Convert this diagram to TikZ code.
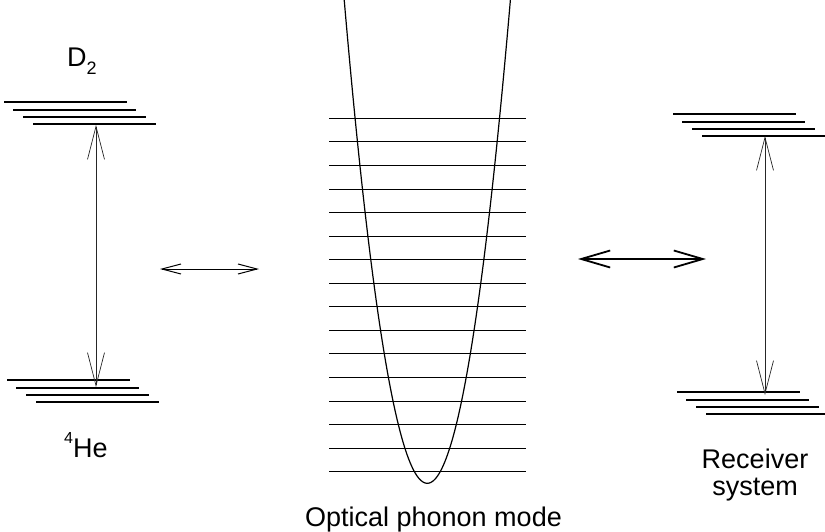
\documentclass[tikz,border=0pt]{standalone}
\usepackage{fontspec}
\setmainfont{Liberation Sans}
\usetikzlibrary{arrows.meta}
\tikzset{
  lvline/.style={line width=2.3pt},
  phline/.style={line width=0.9pt},
  potcurve/.style={line width=1.2pt},
  transarrow/.style={{Straight Barb[length=33pt,width=17pt]}-{Straight Barb[length=33pt,width=17pt]}, line width=0.7pt, draw=black!85},
  thincouple/.style={{Straight Barb[length=19pt,width=10pt]}-{Straight Barb[length=19pt,width=10pt]}, line width=1pt},
  thickcouple/.style={{Straight Barb[length=29pt,width=17pt]}-{Straight Barb[length=29pt,width=17pt]}, line width=1.8pt},
  lbltext/.style={font=\fontsize{27}{27}\selectfont, inner sep=0pt, align=center}
}
\newcommand{\lowidx}[1]{\raisebox{-8pt}{\fontsize{18}{18}\selectfont #1}}
\newcommand{\highidx}[1]{\raisebox{13.5pt}{\fontsize{16}{16}\selectfont #1}}

\begin{document}
\begin{tikzpicture}[x=1pt, y=-1pt]
  \useasboundingbox (0,0) rectangle (825,531);
  % level stacks
  \foreach \sx/\sy in {4/102, 7/380, 673/114, 677/392}
    \foreach \dx/\dy in {0/0, 9/8, 19/15, 29/22}
      \draw[lvline] (\sx+\dx,\sy+\dy) -- ++(123,0);
  % phonon ladder
  \foreach \k in {0,...,15}
    \draw[phline] (329,118.3+23.56*\k) -- (526,118.3+23.56*\k);
  \draw[potcurve, domain=-83.1:83.1, samples=120, smooth] plot (\x+427.3, {483.3-0.07*\x*\x});
  % transitions
  \coordinate (dtop) at (96,125);
  \coordinate (hebot) at (96,387);
  \coordinate (rtop) at (765,136);
  \coordinate (rbot) at (765,395);
  \draw[transarrow] (dtop) -- (hebot);
  \draw[transarrow] (rtop) -- (rbot);
  % couplings
  \coordinate (cplA) at (160,269);
  \coordinate (cplB) at (259,269);
  \coordinate (cplC) at (578,259);
  \coordinate (cplD) at (706,259);
  \draw[thincouple] (cplA) -- (cplB);
  \draw[thickcouple] (cplC) -- (cplD);
  % labels
  \node[lbltext, anchor=base west] (dlabel) at (67,66) {D\lowidx{2}};
  \node[lbltext, anchor=base west] (helabel) at (64,457) {\highidx{4}He};
  \node[lbltext, anchor=base] (rcvlabel) at (755,495) {Receiver\\system};
  \node[lbltext, anchor=base] (phlabel) at (433.5,526) {Optical phonon mode};
\end{tikzpicture}
\end{document}
